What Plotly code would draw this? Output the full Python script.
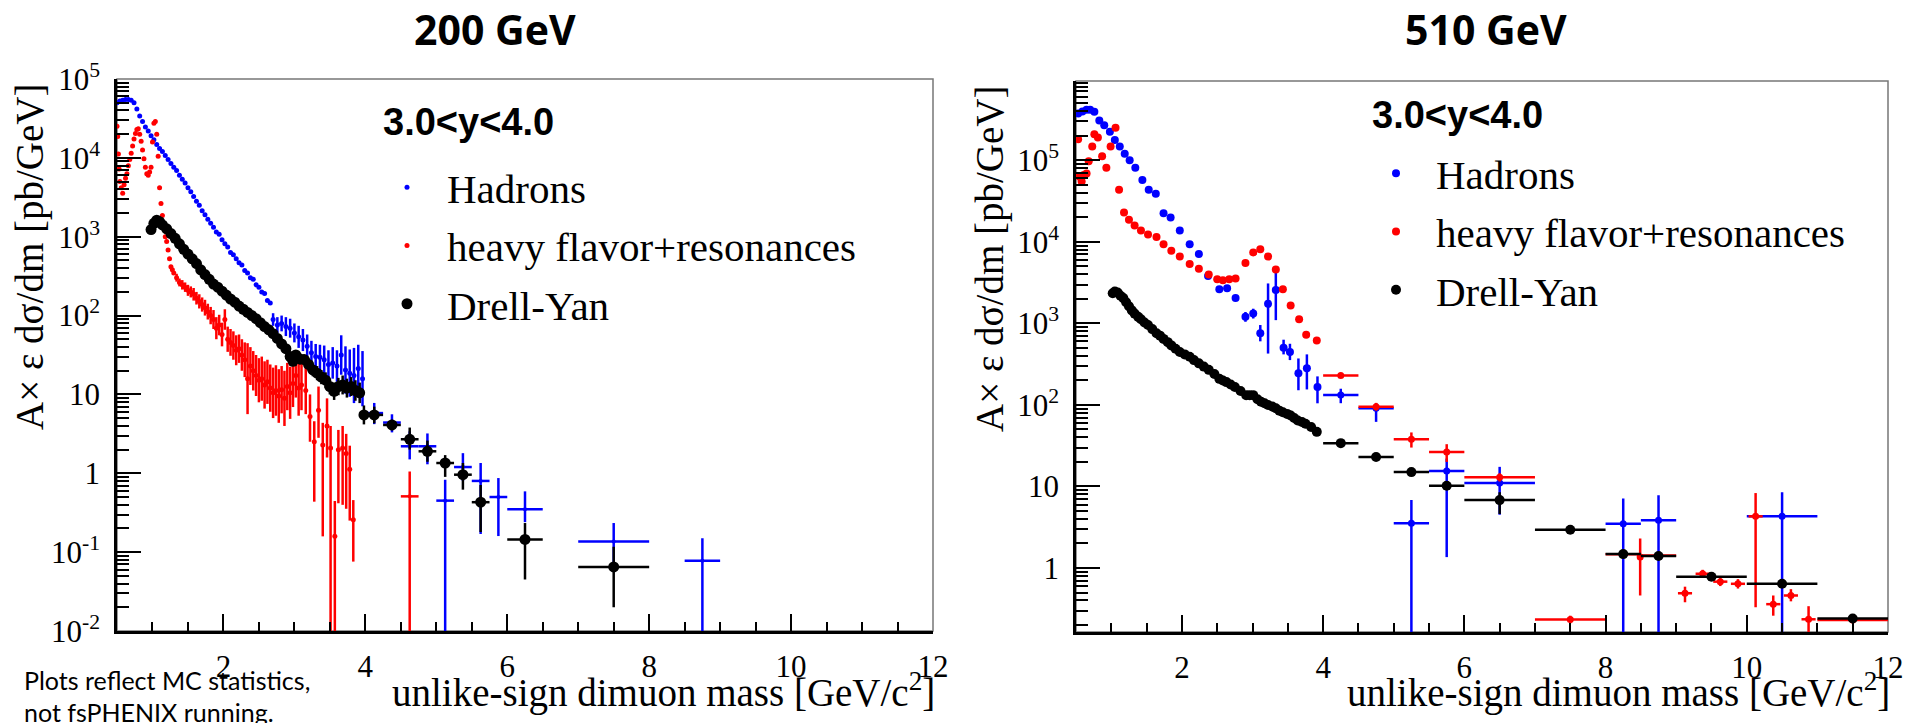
import plotly.graph_objects as go

W, H = 1921, 723

# ======================= 200 GeV panel =======================
# Hadrons (blue), fine bins: mass and log10(dsigma/dm)
had200_x = [0.50,0.54,0.58,0.62,0.66,0.70,0.74,0.78,0.82,0.86,0.90,0.94,0.98,1.02,1.06,1.10,1.14,1.18,1.22,1.26,
            1.30,1.34,1.38,1.42,1.46,1.50,1.54,1.58,1.62,1.66,1.70,1.74,1.78,1.82,1.86,1.90,1.94,1.98,2.02,2.06,
            2.10,2.14,2.18,2.22,2.26,2.30,2.34,2.38,2.42,2.46,2.50,2.54,2.58,2.62,2.66]
had200_log = [4.70,4.72,4.73,4.74,4.74,4.73,4.70,4.62,4.53,4.46,4.39,4.34,4.28,4.23,4.17,4.12,4.08,4.03,3.98,3.93,
              3.88,3.84,3.78,3.73,3.68,3.62,3.57,3.51,3.45,3.40,3.33,3.28,3.22,3.17,3.12,3.06,3.03,2.96,2.91,2.87,
              2.80,2.77,2.72,2.67,2.64,2.57,2.54,2.48,2.46,2.39,2.36,2.30,2.28,2.19,2.16]
# Hadrons with visible errors (log10 value, log10 half error)
had200e_x = [2.70,2.76,2.82,2.88,2.94,3.00,3.06,3.12,3.18,3.24,3.30,3.36,3.42,3.48,3.54,3.60,3.66,3.72,3.78,3.84,3.90,3.96]
had200e_log = [1.95,1.88,1.90,1.86,1.84,1.78,1.73,1.69,1.61,1.53,1.48,1.47,1.44,1.38,1.40,1.36,1.50,1.31,1.27,1.24,1.33,1.20]
had200e_dlog = [0.08,0.10,0.10,0.12,0.12,0.12,0.14,0.14,0.15,0.15,0.16,0.16,0.18,0.18,0.20,0.20,0.25,0.30,0.30,0.35,0.30,0.35]
# Hadrons, wide bins
had200b_x = [4.125,4.375,4.625,4.875,5.125,5.375,5.625,5.875,6.25,7.5,8.75]
had200b_xerr = [0.125,0.125,0.125,0.125,0.125,0.125,0.125,0.125,0.25,0.5,0.25]
had200b_y = [5.8,4.4,2.2,2.2,0.45,1.2,0.8,0.5,0.35,0.136,0.078]
had200b_lo = [4.2,3.3,1.5,1.3,0.0,0.8,0.17,0.16,0.24,0.074,0.0]
had200b_hi = [7.8,5.6,3.4,3.2,0.83,1.8,1.35,0.87,0.59,0.234,0.15]

# Heavy flavor + resonances (red)
hf200a_x = [0.50,0.51,0.52,0.53,0.54,0.56,0.58,0.60,0.62,0.64,0.66,0.68,0.70,0.72,0.74,0.76,0.78,0.80,0.82,0.84,
            0.86,0.88,0.90,0.92,0.94,0.96,0.98,1.00,1.02,1.04,1.06,1.08,1.10,1.12,1.14,1.16,1.18,1.20,1.22,1.24,
            1.26,1.28,1.30]
hf200a_log = [4.40,4.27,4.05,3.86,3.70,3.62,3.55,3.66,3.74,3.80,3.90,3.98,4.06,4.15,4.24,4.31,4.36,4.37,4.30,4.21,
              4.10,3.99,3.88,3.80,3.78,3.82,3.88,4.20,4.44,4.46,4.30,4.02,3.62,3.42,3.27,3.14,3.00,2.94,2.83,2.72,
              2.62,2.58,2.54]
hf200b_x = [1.34,1.38,1.42,1.46,1.50,1.54,1.58,1.62,1.66,1.70,1.74,1.78,1.82,1.86,1.90,1.94,1.98,2.02,2.06,2.10,
            2.14,2.18,2.22,2.26,2.30,2.34,2.38,2.42,2.46,2.50,2.54,2.58,2.62,2.66,2.70,2.74,2.78,2.82,2.86,2.90,
            2.94,2.98,3.02,3.06,3.10]
hf200b_log = [2.48,2.42,2.39,2.36,2.32,2.30,2.27,2.22,2.18,2.14,2.10,2.05,2.00,1.95,1.84,1.88,1.76,1.95,1.70,1.66,
              1.62,1.56,1.58,1.50,1.44,1.20,1.36,1.30,1.24,1.18,1.20,1.12,1.16,1.08,1.02,1.05,0.98,1.06,0.95,1.10,
              1.02,1.14,1.24,1.08,1.12]
hf200b_dlog = [0.05,0.05,0.06,0.06,0.07,0.07,0.08,0.08,0.09,0.09,0.10,0.10,0.11,0.12,0.14,0.13,0.15,0.13,0.16,0.17,
               0.18,0.19,0.18,0.20,0.22,0.45,0.24,0.25,0.26,0.28,0.28,0.30,0.28,0.30,0.32,0.32,0.34,0.30,0.35,0.30,
               0.33,0.30,0.28,0.35,0.32]
hf200c_x = [3.16,3.22,3.28,3.34,3.40,3.46,3.51,3.57,3.62,3.68,3.73,3.78,3.83]
hf200c_log = [1.05,0.72,0.40,0.80,0.36,0.60,0.32,-0.80,0.30,0.32,0.25,0.05,-0.59]
hf200c_lolog = [0.75,0.40,-0.36,0.45,-0.80,0.20,-9,-9,-0.38,-0.40,-0.45,-0.60,-1.12]
hf200c_hilog = [1.35,1.00,0.66,1.10,0.64,0.95,0.60,-0.35,0.55,0.60,0.50,0.35,-0.34]
hf200d_x = [4.625]
hf200d_xerr = [0.125]
hf200d_y = [0.51]
hf200d_lo = [0.0]
hf200d_hi = [1.05]

# Drell-Yan (black)
dy200a_x = [0.98,1.02,1.06,1.10,1.14,1.20,1.26,1.32,1.38,1.44,1.50,1.56,1.62,1.68,1.74,1.80,1.86,1.92,1.98,2.04,
            2.10,2.16,2.22,2.28,2.34,2.40,2.46,2.52,2.58,2.64,2.70,2.76,2.82,2.88,2.94]
dy200a_log = [3.09,3.17,3.21,3.19,3.15,3.10,3.04,2.98,2.91,2.84,2.78,2.72,2.66,2.58,2.52,2.46,2.40,2.36,2.31,2.26,
              2.21,2.17,2.12,2.08,2.04,2.00,1.96,1.91,1.86,1.82,1.77,1.71,1.64,1.58,1.48]
dy200b_x = [2.98,3.02,3.08,3.14,3.20,3.26,3.32,3.38,3.44,3.50,3.56,3.62,3.68,3.74,3.80,3.86,3.92,3.98]
dy200b_log = [1.42,1.50,1.45,1.44,1.38,1.31,1.27,1.22,1.18,1.10,1.04,1.10,1.12,1.08,1.10,1.05,1.02,0.74]
dy200b_dlog = [0.06,0.06,0.07,0.07,0.08,0.08,0.09,0.09,0.10,0.10,0.11,0.11,0.12,0.12,0.12,0.13,0.13,0.12]
dy200c_x = [4.125,4.375,4.625,4.875,5.125,5.375,5.625,6.25,7.5]
dy200c_xerr = [0.125,0.125,0.125,0.125,0.125,0.125,0.125,0.25,0.5]
dy200c_y = [5.5,4.1,2.7,1.9,1.35,0.96,0.43,0.145,0.065]
dy200c_lo = [4.3,3.5,2.0,1.4,0.9,0.62,0.18,0.045,0.020]
dy200c_hi = [7.0,4.8,3.8,2.6,1.7,1.35,0.71,0.234,0.117]

# ======================= 510 GeV panel =======================
had510_x = [0.53,0.59,0.65,0.70,0.76,0.83,0.90,0.98,1.05,1.12,1.19,1.26,1.34,1.44,1.53,1.63,1.74,1.84,1.97,2.11,
            2.24,2.37,2.53,2.64,2.76]
had510_log = [5.575,5.60,5.62,5.62,5.595,5.49,5.43,5.35,5.25,5.17,5.08,5.00,4.91,4.76,4.64,4.59,4.35,4.30,4.14,3.97,
              3.85,3.58,3.42,3.43,3.31]
had510e_x = [2.90,3.01,3.11,3.22,3.33,3.44,3.53,3.65,3.77,3.92]
had510e_log = [3.08,3.12,2.88,3.24,3.41,2.70,2.65,2.39,2.45,2.22]
had510e_lolog = [3.02,3.06,2.78,2.63,3.04,2.62,2.55,2.18,2.19,2.02]
had510e_hilog = [3.14,3.18,2.98,3.49,3.62,2.80,2.75,2.57,2.62,2.35]
had510b_x = [4.25,4.75,5.25,5.75,6.5,8.25,8.75,10.5]
had510b_xerr = [0.25,0.25,0.25,0.25,0.5,0.25,0.25,0.5]
had510b_y = [132,91,3.55,15.5,11,3.5,3.85,4.3]
had510b_lo = [105,62,0.0,1.36,4.5,0.0,0.0,0.0]
had510b_hi = [158,105,6.8,22,17.4,7.1,7.8,8.5]

hf510_x = [0.53,0.55,0.58,0.61,0.65,0.68,0.73,0.76,0.81,0.87,0.93,0.99,1.06,1.11,1.18,1.25,1.33,1.42,1.52,1.64,
           1.74,1.85,1.97,2.11,2.24,2.38,2.50,2.58,2.67,2.76,2.90,3.01,3.11,3.22,3.33,3.43,3.54,3.66,3.76,3.91]
hf510_log = [5.26,4.80,4.74,4.82,4.84,4.99,5.17,5.32,5.28,5.05,4.91,5.17,5.40,4.64,4.36,4.27,4.20,4.14,4.09,4.06,
             3.97,3.89,3.82,3.73,3.67,3.60,3.54,3.53,3.54,3.55,3.74,3.87,3.91,3.82,3.66,3.42,3.22,3.05,2.86,2.79]
hf510b_x = [4.25,4.75,5.25,5.75,6.5,7.5,8.25,8.49,8.75,9.125,9.375,9.625,9.875,10.125,10.375,10.625,10.875,11.5]
hf510b_xerr = [0.25,0.25,0.25,0.25,0.5,0.5,0.25,0.03,0.25,0.1,0.1,0.1,0.1,0.1,0.1,0.1,0.1,0.5]
hf510b_y = [230,95,38,26.5,13,0.234,1.47,1.36,1.42,0.49,0.85,0.68,0.64,4.3,0.36,0.46,0.235,0.23]
hf510b_lo = [215,85,30,20,11.5,0.21,1.35,0.46,1.30,0.38,0.76,0.60,0.56,0.33,0.26,0.39,0.16,0.21]
hf510b_hi = [245,106,46,33,14.5,0.26,1.60,2.30,1.55,0.59,0.95,0.77,0.73,8.3,0.46,0.55,0.34,0.25]

dy510_x = [1.02,1.05,1.09,1.13,1.17,1.21,1.25,1.29,1.33,1.38,1.42,1.47,1.52,1.58,1.64,1.69,1.74,1.80,1.85,1.91,
           1.97,2.04,2.11,2.17,2.24,2.31,2.38,2.46,2.53,2.58,2.63,2.69,2.75,2.83,2.91,2.96,3.01,3.07,3.12,3.17,
           3.22,3.28,3.33,3.38,3.43,3.49,3.54,3.59,3.64,3.70,3.75,3.83,3.91]
dy510_log = [3.37,3.39,3.38,3.34,3.31,3.26,3.21,3.16,3.12,3.08,3.05,3.01,2.98,2.93,2.88,2.85,2.81,2.77,2.73,2.69,
             2.65,2.62,2.59,2.55,2.51,2.47,2.43,2.38,2.32,2.30,2.28,2.25,2.22,2.17,2.12,2.12,2.12,2.07,2.04,2.02,
             2.00,1.98,1.96,1.93,1.91,1.89,1.87,1.84,1.81,1.79,1.77,1.73,1.67]
dy510b_x = [4.25,4.75,5.25,5.75,6.5,7.5,8.25,8.75,9.5,10.5,11.5]
dy510b_xerr = [0.25,0.25,0.25,0.25,0.5,0.5,0.25,0.25,0.5,0.5,0.5]
dy510b_y = [34,23,15,10.2,6.8,2.95,1.48,1.40,0.78,0.64,0.24]
dy510b_lo = [32,21.5,14,9.3,4.6,2.8,1.38,1.30,0.74,0.60,0.22]
dy510b_hi = [36,24.5,16,11.2,8.5,3.1,1.58,1.50,0.82,0.68,0.26]

# axis tick labels
x_tickvals = [2, 4, 6, 8, 10, 12]
x_ticktext = ["2", "4", "6", "8", "10", "12"]
y200_tickvals = [0.01, 0.1, 1, 10, 100, 1000, 10000, 100000]
y200_ticktext = ["10<sup>-2</sup>", "10<sup>-1</sup>", "1", "10", "10<sup>2</sup>", "10<sup>3</sup>",
                 "10<sup>4</sup>", "10<sup>5</sup>"]
y510_tickvals = [1, 10, 100, 1000, 10000, 100000]
y510_ticktext = ["1", "10", "10<sup>2</sup>", "10<sup>3</sup>", "10<sup>4</sup>", "10<sup>5</sup>"]

# sanity checks on list lengths
for a, b in [(had200_x, had200_log), (had200e_x, had200e_dlog), (had200e_x, had200e_log),
             (hf200a_x, hf200a_log), (hf200b_x, hf200b_log), (hf200b_x, hf200b_dlog),
             (hf200c_x, hf200c_log), (hf200c_x, hf200c_lolog), (hf200c_x, hf200c_hilog),
             (dy200a_x, dy200a_log), (dy200b_x, dy200b_log), (dy200b_x, dy200b_dlog),
             (dy200c_x, dy200c_y), (dy200c_x, dy200c_lo), (dy200c_x, dy200c_hi),
             (had200b_x, had200b_y), (had200b_x, had200b_lo), (had200b_x, had200b_hi), (had200b_x, had200b_xerr),
             (had510_x, had510_log), (had510e_x, had510e_log), (had510e_x, had510e_lolog), (had510e_x, had510e_hilog),
             (had510b_x, had510b_y), (had510b_x, had510b_lo), (had510b_x, had510b_hi), (had510b_x, had510b_xerr),
             (hf510_x, hf510_log), (hf510b_x, hf510b_y), (hf510b_x, hf510b_lo), (hf510b_x, hf510b_hi), (hf510b_x, hf510b_xerr),
             (dy510_x, dy510_log), (dy510b_x, dy510b_y), (dy510b_x, dy510b_lo), (dy510b_x, dy510b_hi), (dy510b_x, dy510b_xerr)]:
    assert len(a) == len(b), (len(a), len(b))

BLUE, RED, BLACK = "#0000ff", "#ff0000", "#000000"

fig = go.Figure()


def from_log(v):
    return [10 ** a for a in v]


def add(x, y, color, size, ax, legend, name=None, lo=None, hi=None, xerr=None):
    tr = dict(x=x, y=y, mode="markers", marker=dict(color=color, size=size, line=dict(width=0)),
              xaxis=ax[0], yaxis=ax[1], hoverinfo="skip", legend=legend,
              legendgroup=(legend + (name or "")), showlegend=name is not None, name=name or "")
    if lo is not None:
        tr["error_y"] = dict(type="data", symmetric=False,
                             array=[h - v for h, v in zip(hi, y)],
                             arrayminus=[v - l for v, l in zip(y, lo)],
                             color=color, thickness=2.5, width=0)
    if xerr is not None:
        tr["error_x"] = dict(type="data", array=xerr, color=color, thickness=2.5, width=0)
    fig.add_trace(go.Scatter(**tr))


def add_log(x, ylog, color, size, ax, legend, name=None, dlog=None, lolog=None, hilog=None):
    y = from_log(ylog)
    lo = hi = None
    if dlog is not None:
        lo = [10 ** (v - d) for v, d in zip(ylog, dlog)]
        hi = [10 ** (v + d) for v, d in zip(ylog, dlog)]
    if lolog is not None:
        lo = [10 ** v if v > -8 else 0.0 for v in lolog]
        hi = [10 ** v for v in hilog]
    add(x, y, color, size, ax, legend, name, lo, hi)


L = ("x", "y")
R = ("x2", "y2")

# ---- 200 GeV traces ----
add_log(had200_x, had200_log, BLUE, 5, L, "legend", "Hadrons")
add_log(had200e_x, had200e_log, BLUE, 5, L, "legend", dlog=had200e_dlog)
add(had200b_x, had200b_y, BLUE, 4, L, "legend", lo=had200b_lo, hi=had200b_hi, xerr=had200b_xerr)
add_log(hf200a_x, hf200a_log, RED, 5, L, "legend", "heavy flavor+resonances")
add_log(hf200b_x, hf200b_log, RED, 5, L, "legend", dlog=hf200b_dlog)
add_log(hf200c_x, hf200c_log, RED, 5, L, "legend", lolog=hf200c_lolog, hilog=hf200c_hilog)
add(hf200d_x, hf200d_y, RED, 4, L, "legend", lo=hf200d_lo, hi=hf200d_hi, xerr=hf200d_xerr)
add_log(dy200a_x, dy200a_log, BLACK, 11, L, "legend", "Drell-Yan")
add_log(dy200b_x, dy200b_log, BLACK, 11, L, "legend", dlog=dy200b_dlog)
add(dy200c_x, dy200c_y, BLACK, 11, L, "legend", lo=dy200c_lo, hi=dy200c_hi, xerr=dy200c_xerr)

# ---- 510 GeV traces ----
add_log(had510_x, had510_log, BLUE, 8, R, "legend2", "Hadrons")
add_log(had510e_x, had510e_log, BLUE, 8, R, "legend2", lolog=had510e_lolog, hilog=had510e_hilog)
add(had510b_x, had510b_y, BLUE, 7, R, "legend2", lo=had510b_lo, hi=had510b_hi, xerr=had510b_xerr)
add_log(hf510_x, hf510_log, RED, 8, R, "legend2", "heavy flavor+resonances")
add(hf510b_x, hf510b_y, RED, 7, R, "legend2", lo=hf510b_lo, hi=hf510b_hi, xerr=hf510b_xerr)
add_log(dy510_x, dy510_log, BLACK, 10, R, "legend2", "Drell-Yan")
add(dy510b_x, dy510b_y, BLACK, 10, R, "legend2", lo=dy510b_lo, hi=dy510b_hi, xerr=dy510b_xerr)

# ---- axes ----
SERIF = "Liberation Serif"
minor_log = [m * 10.0 ** d for d in range(-3, 7) for m in range(2, 10)]


def xaxis(dom, anchor):
    return dict(domain=dom, anchor=anchor, range=[0.5, 12], tickmode="array", tickvals=x_tickvals,
                ticktext=x_ticktext, ticks="inside", ticklen=17, tickwidth=2, automargin=False,
                tickcolor="black", showline=True, linecolor="black", linewidth=2.5, showgrid=False,
                zeroline=False, tickfont=dict(family=SERIF, size=31, color="black"), ticklabelstandoff=6,
                minor=dict(dtick=0.5, tick0=0, ticks="inside", ticklen=9, tickwidth=2, tickcolor="black",
                           showgrid=False), fixedrange=True)


def yaxis(dom, rng, anchor, tv, tt):
    return dict(domain=dom, type="log", range=rng, tickmode="array", tickvals=tv, ticktext=tt,
                ticks="inside", automargin=False,
                ticklen=24, tickwidth=2, tickcolor="black", showline=True, linecolor="black", linewidth=2.5,
                showgrid=False, zeroline=False, tickfont=dict(family=SERIF, size=31, color="black"),
                ticklabelstandoff=8, anchor=anchor,
                minor=dict(tickmode="array", tickvals=minor_log, ticks="inside", ticklen=12, tickwidth=1.5,
                           tickcolor="black", showgrid=False), fixedrange=True)


LEG_FONT = dict(family=SERIF, size=41, color="black")
fig.update_layout(
    width=W, height=H, margin=dict(l=0, r=0, t=0, b=0, autoexpand=False),
    paper_bgcolor="white", plot_bgcolor="white",
    xaxis=xaxis([117 / W, 933 / W], "y"),
    yaxis=yaxis([(H - 631) / H, (H - 79) / H], [-2, 5], "x", y200_tickvals, y200_ticktext),
    xaxis2=xaxis([1076 / W, 1888 / W], "y2"),
    yaxis2=yaxis([(H - 632) / H, (H - 81) / H], [-0.785, 5.973], "x2", y510_tickvals, y510_ticktext),
    legend=dict(x=367 / W, y=1 - 154 / H, xanchor="left", yanchor="top", bgcolor="rgba(0,0,0,0)",
                font=LEG_FONT, itemwidth=70, tracegroupgap=2, itemsizing="trace"),
    legend2=dict(x=1356 / W, y=1 - 140 / H, xanchor="left", yanchor="top", bgcolor="rgba(0,0,0,0)",
                 font=LEG_FONT, itemwidth=70, tracegroupgap=2, itemsizing="trace"),
    showlegend=True,
)

# frame (thin gray top/right edges)
for xr, yr in (("x", "y"), ("x2", "y2")):
    fig.add_shape(type="rect", xref=xr + " domain", yref=yr + " domain", x0=0, x1=1, y0=0, y1=1,
                  line=dict(color="#777777", width=1.5), layer="below")

ann = []


def text(t, x, y, size, family, xanchor="center", yanchor="middle", weight="normal", angle=0):
    ann.append(dict(text=t, x=x / W, y=1 - y / H, xref="paper", yref="paper", showarrow=False,
                    xanchor=xanchor, yanchor=yanchor, textangle=angle,
                    font=dict(family=family, size=size, color="black", weight=weight)))


text("200 GeV", 495, 29, 41, "Open Sans", weight="bold")
text("510 GeV", 1486, 29, 41, "Open Sans", weight="bold")
text("3.0&lt;y&lt;4.0", 468, 122, 38, "Liberation Sans", weight="bold")
text("3.0&lt;y&lt;4.0", 1457, 115, 38, "Liberation Sans", weight="bold")
text("A× ε dσ/dm [pb/GeV]", 30, 257, 39, SERIF, angle=-90)
text("A× ε dσ/dm [pb/GeV]", 990, 259, 39, SERIF, angle=-90)
text("unlike-sign dimuon mass [GeV/c<sup>2</sup>]", 937, 690, 39, SERIF, xanchor="right")
text("unlike-sign dimuon mass [GeV/c<sup>2</sup>]", 1892, 690, 39, SERIF, xanchor="right")
text("Plots reflect MC statistics,", 22, 680, 25, "Lato", xanchor="left")
text("not fsPHENIX running.", 22, 712, 25, "Lato", xanchor="left")
fig.update_layout(annotations=ann)

fig.write_html("out.html")
